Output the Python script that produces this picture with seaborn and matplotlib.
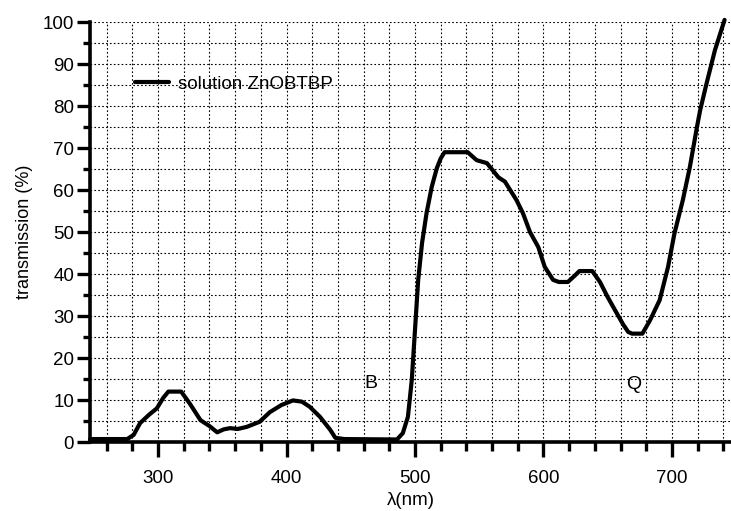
import matplotlib
matplotlib.use("Agg")
import matplotlib.pyplot as plt
from matplotlib.ticker import MultipleLocator
import numpy as np
import pandas as pd
import seaborn as sns

# transmission spectrum
wavelength = [247, 260, 276, 281, 286, 293, 299, 304, 308, 318, 325, 333, 340,
              346, 351, 356, 362, 369, 379, 387, 396, 405, 412, 418, 426, 434,
              438, 445, 486, 490.5, 494.5, 497.5, 500, 502.5, 505.5, 509, 513,
              517, 520, 523, 541, 548, 556, 561, 565, 570, 579, 584, 589.5, 596,
              601, 607.5, 612, 619, 624, 628, 638, 644, 650, 657, 662, 666, 669,
              677, 683, 690.5, 697, 702, 708.5, 714, 719.5, 722, 727, 733.5,
              736, 741]
transmission = [0.7, 0.7, 0.7, 1.7, 4.5, 6.5, 8.0, 10.5, 12.0, 12.0, 9.0, 5.2,
                3.8, 2.3, 3.0, 3.3, 3.1, 3.6, 4.8, 7.1, 8.8, 9.9, 9.6, 8.4, 6.0,
                2.9, 1.0, 0.7, 0.6, 2.1, 6.0, 14.8, 26.7, 38.6, 47.4, 54.5, 60.7,
                65.2, 67.5, 69.0, 69.0, 67.1, 66.4, 64.5, 63.0, 62.0, 57.6, 54.5,
                50.0, 46.4, 41.7, 38.6, 38.1, 38.1, 39.5, 40.7, 40.7, 38.1, 34.5,
                30.7, 28.0, 26.2, 25.8, 25.8, 29.0, 33.8, 41.7, 49.7, 57.6, 65.5,
                75.0, 79.0, 85.4, 93.3, 95.7, 100.5]
band_labels = ["B", "Q"]
band_x = [466, 670]
band_y = [14, 13.6]

df = pd.DataFrame({"wavelength": wavelength, "transmission": transmission})

sns.set_style("ticks")
plt.rcParams["font.family"] = ["Liberation Sans", "DejaVu Sans"]
plt.rcParams.update({
    "text.color": "black",
    "axes.labelcolor": "black",
    "xtick.color": "black",
    "ytick.color": "black",
})

fig = plt.figure(figsize=(7.31, 5.11), dpi=100)
ax = fig.add_axes([90 / 731, 69 / 511, 641 / 731, 420 / 511])

sns.lineplot(data=df, x="wavelength", y="transmission", sort=False,
             color="black", linewidth=3, label="solution ZnOBTBP", ax=ax)
for line in ax.lines:
    line.set_clip_on(False)

ax.set_xlim(247, 746)
ax.set_ylim(0, 100)
ax.xaxis.set_major_locator(MultipleLocator(100))
ax.xaxis.set_minor_locator(MultipleLocator(20))
ax.yaxis.set_major_locator(MultipleLocator(10))
ax.yaxis.set_minor_locator(MultipleLocator(5))
ax.grid(which="both", color="black", linestyle=(0, (1.5, 2)), linewidth=0.8)
ax.set_axisbelow(True)

for side in ["top", "right"]:
    ax.spines[side].set_visible(False)
for side in ["left", "bottom"]:
    ax.spines[side].set_linewidth(2.6)
    ax.spines[side].set_color("black")

ax.tick_params(axis="y", which="major", length=9.5, width=2.4, labelsize=13.5,
               pad=2)
ax.tick_params(axis="y", which="minor", length=5, width=2.4)
ax.tick_params(axis="x", which="major", length=11, width=2.4, labelsize=13.5,
               pad=9)
ax.tick_params(axis="x", which="minor", length=6.5, width=2.4)

ax.set_xlabel("λ(nm)", fontsize=13.5, labelpad=4)
ax.set_ylabel("transmission (%)", fontsize=13, labelpad=7)

for lab, bx, by in zip(band_labels, band_x, band_y):
    ax.text(bx, by, lab, fontsize=14, ha="center", va="center")

ax.legend(loc="center left", bbox_to_anchor=(0.07, 0.852), frameon=False,
          fontsize=13.5, handlelength=1.8, handletextpad=0.5,
          borderaxespad=0, borderpad=0)

fig.savefig("out.png", dpi=100)
